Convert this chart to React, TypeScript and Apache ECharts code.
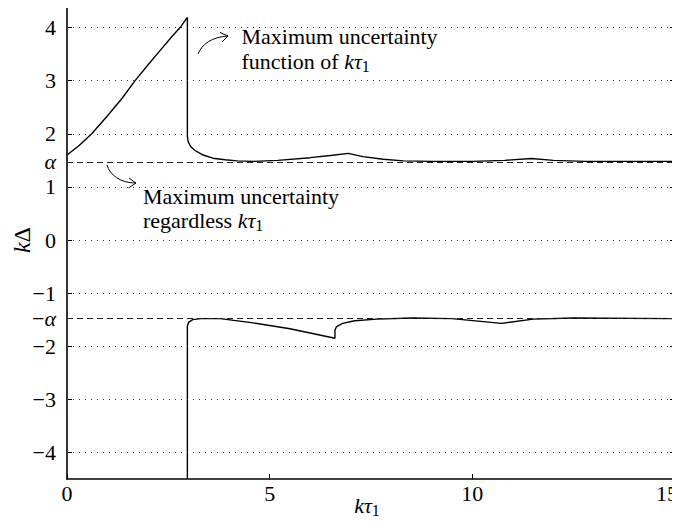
import React, { useEffect, useRef } from "react";
import * as echarts from "echarts";

// Bound used by the dashed reference lines and the ±α tick labels
const ALPHA = 1.47;

// Upper bound of kΔ versus kτ1
const upperX = [0, 0.3, 0.61, 1.0, 1.35, 1.68, 2.0, 2.3, 2.6, 2.79, 2.97, 2.97, 2.99, 3.05, 3.15, 3.36, 3.6, 3.9, 4.2, 4.6, 5.2, 6.0, 6.5, 6.94, 7.3, 7.8, 8.3, 9.0, 10.0, 10.8, 11.46, 12.0, 12.8, 15];
const upperY = [1.6, 1.78, 2.0, 2.34, 2.66, 3.0, 3.3, 3.57, 3.84, 4.0, 4.19, 1.95, 1.85, 1.76, 1.69, 1.6, 1.54, 1.51, 1.49, 1.48, 1.5, 1.55, 1.59, 1.63, 1.57, 1.52, 1.49, 1.48, 1.48, 1.5, 1.535, 1.5, 1.48, 1.48];

// Lower bound of kΔ versus kτ1
const lowerX = [2.97, 2.97, 3.0, 3.1, 3.3, 3.78, 4.5, 5.5, 6.61, 6.61, 6.65, 6.8, 7.1, 7.64, 8.5, 9.5, 10.72, 11.5, 12.5, 15];
const lowerY = [-4.5, -1.62, -1.55, -1.5, -1.48, -1.48, -1.55, -1.67, -1.85, -1.7, -1.63, -1.57, -1.52, -1.49, -1.47, -1.48, -1.57, -1.49, -1.47, -1.48];

// Integer levels drawn as dotted guides, and the ±α levels drawn dashed
const gridLevels = [-4, -3, -2, -1, 0, 1, 2, 3, 4];
const alphaLevels = [ALPHA, -ALPHA];
const yTickValues = [-4, -3, -2, -ALPHA, -1, 0, 1, ALPHA, 2, 3, 4];
const xTickValues = [0, 5, 10, 15];

const FONT = "Liberation Serif";
const FS = 22;
const SUB = 16;

type Seg = { t: string; it?: boolean; sub?: boolean };
type Align = "left" | "center" | "right";

const measureCtx = document.createElement("canvas").getContext("2d") as CanvasRenderingContext2D;

function segSize(s: Seg, size: number) {
  return s.sub ? SUB : size;
}

function segWidth(s: Seg, size: number) {
  measureCtx.font = `${s.it ? "italic " : ""}${segSize(s, size)}px ${FONT}`;
  return measureCtx.measureText(s.t).width;
}

function textEl(s: Seg, x: number, y: number, align: Align, size: number) {
  return {
    type: "text",
    silent: true,
    x,
    y: s.sub ? y + 5.4 : y,
    style: {
      text: s.t,
      fontFamily: FONT,
      fontSize: segSize(s, size),
      fontStyle: s.it ? "italic" : "normal",
      fill: "#000",
      align,
      verticalAlign: "middle",
    },
  };
}

// Lay out a run of plain text pieces (roman, italic, subscript) on one line
function run(segs: Seg[], x: number, y: number, align: Align, size = FS) {
  if (segs.length === 1) return [textEl(segs[0], x, y, align, size)];
  const widths = segs.map((s) => segWidth(s, size));
  const total = widths.reduce((a, b) => a + b, 0);
  let cur = align === "left" ? x : align === "center" ? x - total / 2 : x - total;
  return segs.map((s, i) => {
    const el = textEl(s, cur, y, "left", size);
    cur += widths[i];
    return el;
  });
}

function yLabelSegs(v: number): Seg[] {
  if (Math.abs(v - ALPHA) < 1e-6) return [{ t: "α", it: true }];
  if (Math.abs(v + ALPHA) < 1e-6) return [{ t: "−" }, { t: "α", it: true }];
  return [{ t: v < 0 ? "−" + Math.abs(v) : String(v) }];
}

const kTau: Seg[] = [{ t: "kτ", it: true }, { t: "1", sub: true }];

export default function App() {
  const ref = useRef<HTMLDivElement>(null);

  useEffect(() => {
    if (!ref.current) return;
    const chart = echarts.init(ref.current, null, { renderer: "svg" });

    const upper = upperX.map((x, i) => [x, upperY[i]]);
    const lower = lowerX.map((x, i) => [x, lowerY[i]]);

    const frameLine = { show: true, onZero: false, lineStyle: { color: "#000", width: 1.6 } };
    const inTick = { show: true, inside: true, length: 5, lineStyle: { color: "#000", width: 1 } };
    const thin = { stroke: "#000", lineWidth: 1, fill: "none" };

    chart.setOption({
      animation: false,
      backgroundColor: "#fff",
      grid: { left: 67, right: 5, top: 1, bottom: 49, containLabel: false, outerBoundsMode: "none" },
      xAxis: [
        {
          type: "value", min: 0, max: 15, interval: 5, position: "bottom",
          axisLine: frameLine, axisTick: inTick, splitLine: { show: false }, axisLabel: { show: false },
        },
        {
          type: "value", min: 0, max: 15, interval: 5, position: "top",
          axisLine: frameLine, axisTick: inTick, splitLine: { show: false }, axisLabel: { show: false },
        },
      ],
      yAxis: [
        {
          type: "value", min: -4.5, max: 4.5, position: "left",
          axisLine: frameLine, axisTick: { ...inTick, customValues: yTickValues },
          splitLine: { show: false }, axisLabel: { show: false },
        },
        {
          type: "value", min: -4.5, max: 4.5, position: "right",
          axisLine: frameLine, axisTick: { ...inTick, customValues: yTickValues },
          splitLine: { show: false }, axisLabel: { show: false },
        },
      ],
      series: [
        {
          type: "line",
          data: upper,
          showSymbol: false,
          lineStyle: { color: "#000", width: 1.4 },
          z: 3,
          markLine: {
            silent: true,
            symbol: ["none", "none"],
            label: { show: false },
            data: [
              ...gridLevels.map((v) => ({ yAxis: v, lineStyle: { color: "#333", width: 1, type: [1, 5] } })),
              ...alphaLevels.map((v) => ({ yAxis: v, lineStyle: { color: "#222", width: 1, type: [6, 4] } })),
            ],
          },
        },
        {
          type: "line",
          data: lower,
          showSymbol: false,
          lineStyle: { color: "#000", width: 1.4 },
          z: 3,
        },
      ],
    });

    // tick labels placed through the axes' own scales
    const yLabels = yTickValues.flatMap((v) => {
      const py = chart.convertToPixel({ yAxisIndex: 0 }, v) as number;
      return run(yLabelSegs(v), 56, py, "right");
    });
    const xLabels = xTickValues.flatMap((v, i) => {
      const px = chart.convertToPixel({ xAxisIndex: 0 }, v) as number;
      const last = i === xTickValues.length - 1;
      return run([{ t: String(v) }], last ? px + 3 : px, 493, last ? "right" : "center");
    });

    chart.setOption({
      graphic: [
        ...yLabels,
        ...xLabels,
        // axis titles
        ...run(kTau, 367, 505.5, "center"),
        {
          type: "group",
          x: 22,
          y: 240,
          rotation: Math.PI / 2,
          children: run([{ t: "k", it: true }, { t: "Δ" }], 0, 0, "center", 24),
        },
        // annotation for the kτ1-dependent bound
        {
          type: "bezierCurve",
          shape: { x1: 198, y1: 54, cpx1: 202, cpy1: 44, cpx2: 212, cpy2: 37, x2: 228, y2: 36 },
          style: thin,
        },
        { type: "polyline", shape: { points: [[220, 32.5], [228, 36], [222, 42]] }, style: thin },
        ...run([{ t: "Maximum uncertainty" }], 241.5, 36, "left"),
        ...run([{ t: "function of " }, ...kTau], 241.5, 61, "left"),
        // annotation for the global bound α
        {
          type: "bezierCurve",
          shape: { x1: 107, y1: 165, cpx1: 110, cpy1: 175, cpx2: 120, cpy2: 183, x2: 136, y2: 183 },
          style: thin,
        },
        { type: "polyline", shape: { points: [[129, 178], [136, 183], [128.5, 188]] }, style: thin },
        ...run([{ t: "Maximum uncertainty" }], 143, 196, "left"),
        ...run([{ t: "regardless " }, ...kTau], 143, 220.5, "left"),
      ],
    });

    return () => chart.dispose();
  }, []);

  return <div ref={ref} style={{ width: 680, height: 528, margin: -8 }} />;
}
